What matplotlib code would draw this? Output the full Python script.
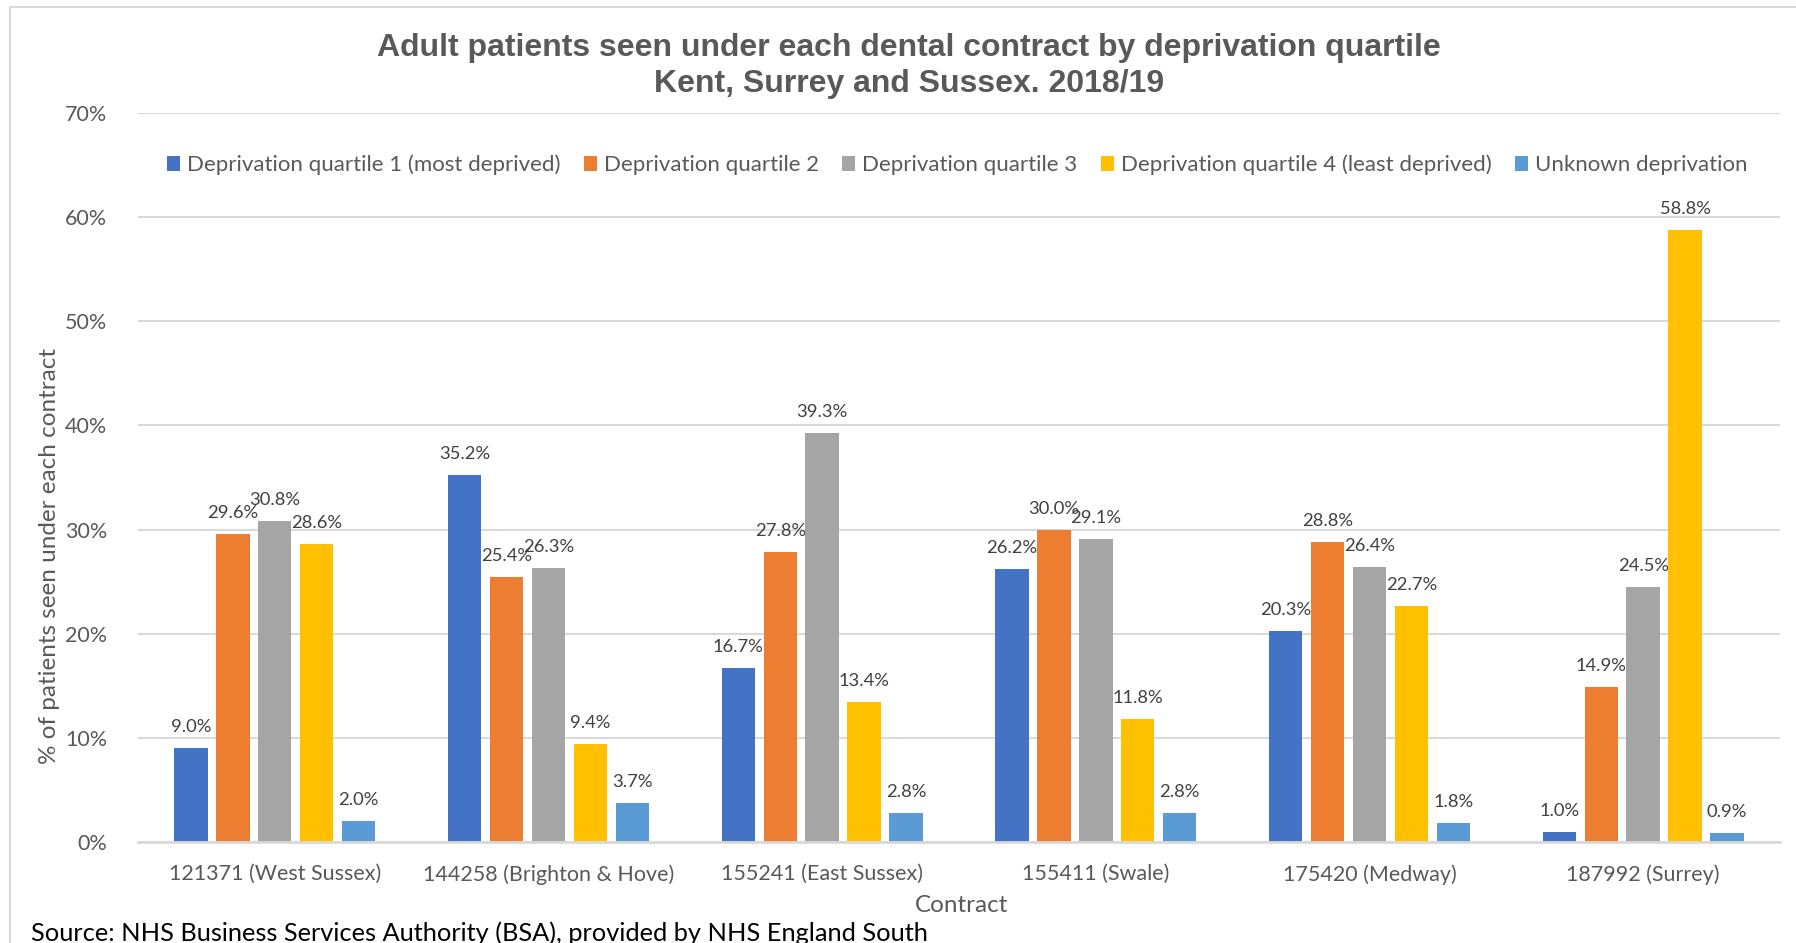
import matplotlib
matplotlib.use("Agg")
import matplotlib.pyplot as plt
import numpy as np
from matplotlib.patches import Rectangle

# 契約ごと・貧困四分位ごとの成人患者割合(%)
contracts = ["121371 (West Sussex)", "144258 (Brighton & Hove)", "155241 (East Sussex)",
             "155411 (Swale)", "175420 (Medway)", "187992 (Surrey)"]
series_names = ["Deprivation quartile 1 (most deprived)", "Deprivation quartile 2",
                "Deprivation quartile 3", "Deprivation quartile 4 (least deprived)",
                "Unknown deprivation"]
q1 = [9.0, 35.2, 16.7, 26.2, 20.3, 1.0]
q2 = [29.6, 25.4, 27.8, 30.0, 28.8, 14.9]
q3 = [30.8, 26.3, 39.3, 29.1, 26.4, 24.5]
q4 = [28.6, 9.4, 13.4, 11.8, 22.7, 58.8]
unknown = [2.0, 3.7, 2.8, 2.8, 1.8, 0.9]
yticks = [0, 10, 20, 30, 40, 50, 60, 70]

colors = ["#4472C4", "#ED7D31", "#A5A5A5", "#FFC000", "#5B9BD5"]
font = ["Lato", "DejaVu Sans"]
grey = "#595959"

fig = plt.figure(figsize=(17.96, 9.43), dpi=100)
ax = fig.add_axes([0.0768, 0.1071, 0.9143, 0.7731])

# 外枠
fig.patches.append(Rectangle((10 / 1796, -0.05), 1.1, 1 - 7 / 943 + 0.05,
                             transform=fig.transFigure, fill=False,
                             edgecolor="#D9D9D9", linewidth=1.5))

x = np.arange(len(contracts))
step = 0.153
width = 0.122
for i, (vals, name) in enumerate(zip([q1, q2, q3, q4, unknown], series_names)):
    pos = x + (i - 2) * step
    ax.bar(pos, vals, width, color=colors[i], label=name, zorder=3)
    for px, v in zip(pos, vals):
        ax.annotate("{:.1f}%".format(v), (px, v), xytext=(0, 13),
                    textcoords="offset pixels", ha="center", va="bottom",
                    fontsize=13.2, color="#404040", family=font)

ax.set_xlim(-0.5, len(contracts) - 0.5)
ax.set_ylim(0, 70)
ax.set_yticks(yticks)
ax.set_yticklabels(["{}%".format(t) for t in yticks])
ax.set_xticks(x)
ax.set_xticklabels(contracts)
ax.grid(axis="y", color="#D9D9D9", linewidth=1.5, zorder=0)
for s in ["top", "right", "left"]:
    ax.spines[s].set_visible(False)
ax.spines["bottom"].set_color("#D9D9D9")
ax.spines["bottom"].set_linewidth(2)
ax.spines["bottom"].set_zorder(4)
ax.tick_params(length=0, colors=grey, labelsize=15.5)
ax.tick_params(axis="x", pad=16)
ax.tick_params(axis="y", pad=22)
for lab in ax.get_xticklabels() + ax.get_yticklabels():
    lab.set_family(font)

# タイトル・軸ラベル
fig.text(909 / 1796, 1 - 66 / 943,
         "Adult patients seen under each dental contract by deprivation quartile\nKent, Surrey and Sussex. 2018/19",
         ha="center", va="center", fontsize=23, fontweight="bold", color=grey,
         family="Liberation Sans", linespacing=1.28)
fig.text(50 / 1796, 1 - 556 / 943, "% of patients seen under each contract",
         rotation=90, ha="center", va="center", fontsize=17.5, color=grey, family=font)
fig.text(962 / 1796, 1 - 905 / 943, "Contract", ha="center", va="center",
         fontsize=17.5, color=grey, family=font)
fig.text(31 / 1796, 1 - 933 / 943,
         "Source: NHS Business Services Authority (BSA), provided by NHS England South",
         ha="left", va="center", fontsize=18.3, color="black", family=font)

fig.legend(loc="center", bbox_to_anchor=(957 / 1796, 1 - 165 / 943), ncol=5,
           frameon=False, handlelength=0.6, handleheight=0.6, handletextpad=0.3,
           columnspacing=1.05, prop={"family": font, "size": 16}, labelcolor=grey)

fig.savefig("out.png", dpi=100)
